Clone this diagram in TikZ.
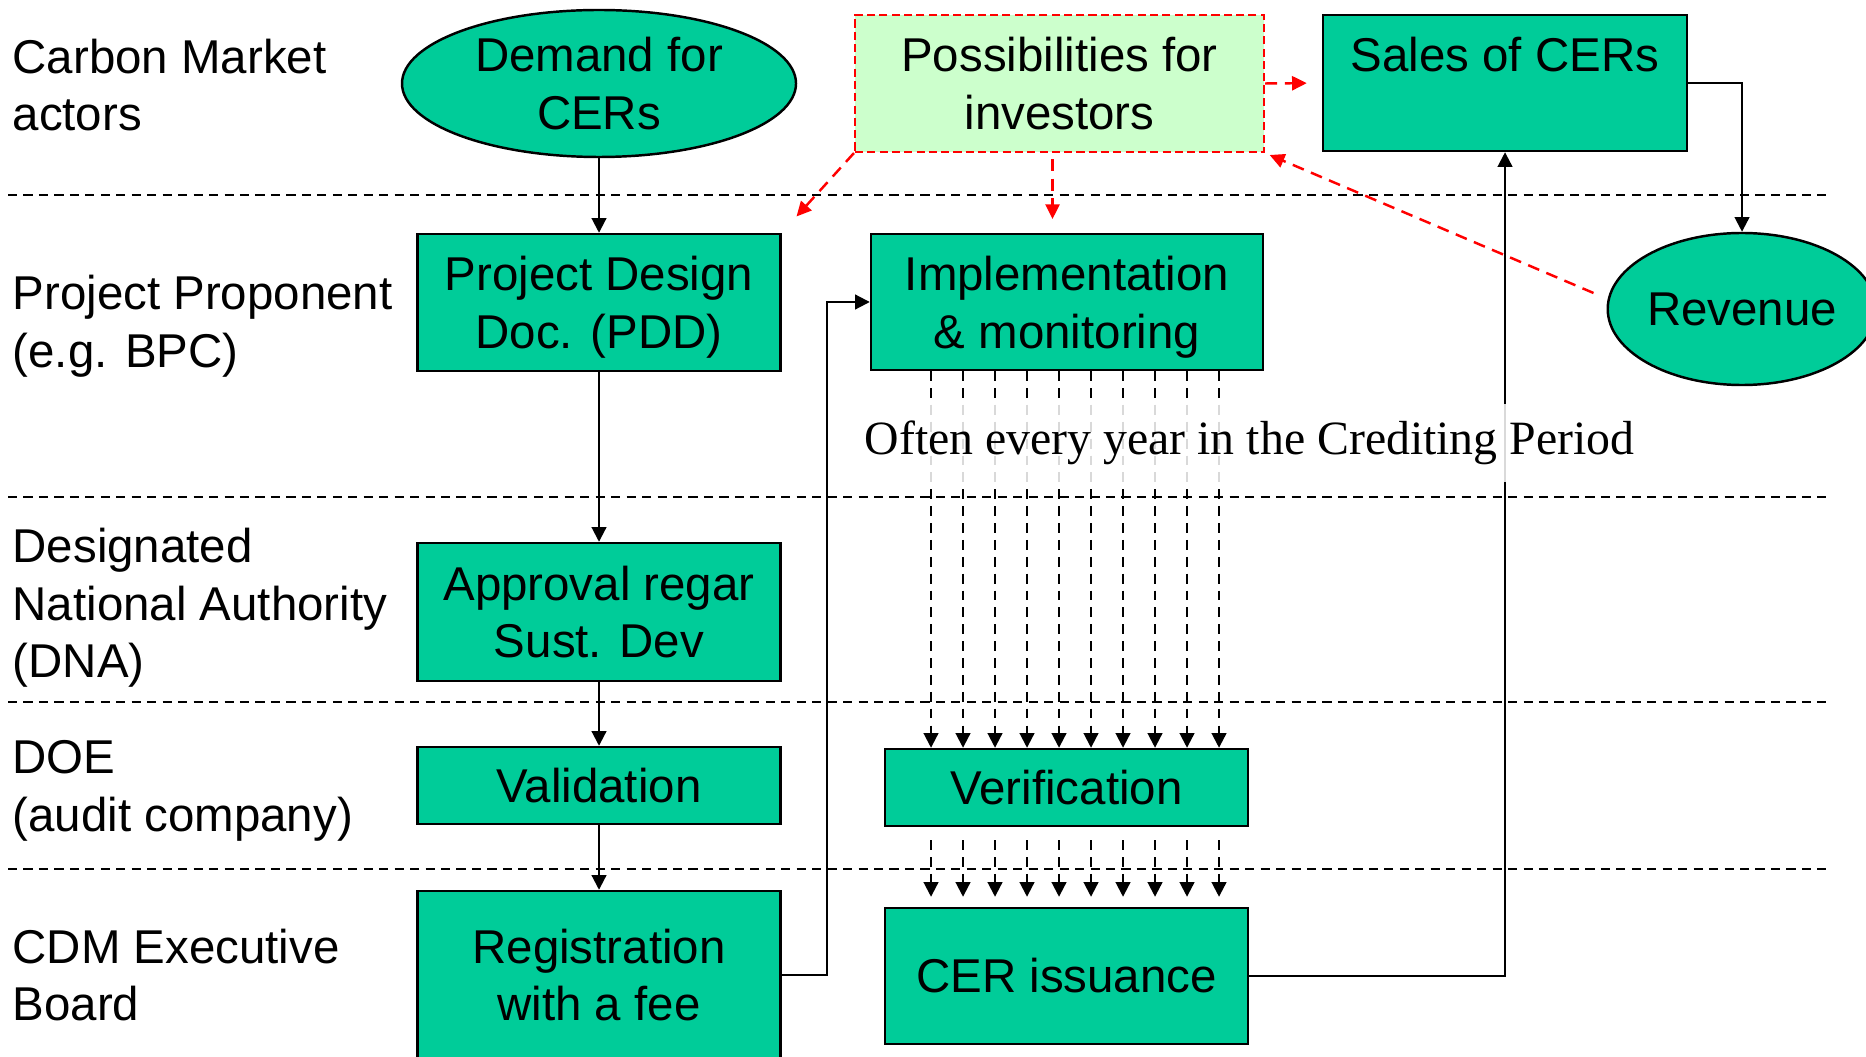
\documentclass[tikz,border=0pt]{standalone}
\usepackage{fontspec}
\setmainfont{Liberation Serif}
\setsansfont{Liberation Sans}
\usetikzlibrary{arrows.meta,shapes.geometric}
\definecolor{cergreen}{RGB}{0,204,153}
\definecolor{palegreen}{RGB}{204,255,204}
\newcommand{\lanefont}{\sffamily\fontsize{13.5}{16.4}\selectfont}

\begin{document}
\begin{tikzpicture}[
  box/.style={rectangle, draw, line width=0.7pt, fill=cergreen, inner sep=0pt, align=center, font=\lanefont},
  oval/.style={ellipse, draw, line width=0.7pt, fill=cergreen, inner sep=0pt, align=center, font=\lanefont},
  actor/.style={anchor=west, align=left, inner sep=0pt, font=\lanefont},
  lane/.style={line width=0.5pt, dash pattern=on 2.6pt off 1.8pt},
  flow/.style={line width=0.6pt, -{Triangle[length=4.2pt,width=4.2pt]}},
  yearly/.style={line width=0.6pt, dash pattern=on 2.8pt off 2pt, -{Triangle[length=4.2pt,width=4.2pt]}},
  inv/.style={red, line width=0.7pt, dash pattern=on 3.4pt off 2.2pt, -{Triangle[length=4.2pt,width=4pt]}}]
\useasboundingbox (0,0) rectangle (18.66,10.56);
\foreach \y in {8.61,5.59,3.54,1.87}
  \draw[lane] (0.08,\y) -- (18.30,\y);
\node[actor] (market) at (0.12,9.71) {Carbon Market\\actors};
\node[actor] (proponent) at (0.12,7.30) {Project Proponent\\(e.g. BPC)};
\node[actor] (dna) at (0.12,4.48) {Designated\\National Authority\\(DNA)};
\node[actor] (doe) at (0.12,2.65) {DOE\\(audit company)};
\node[actor] (board) at (0.12,0.81) {CDM Executive\\Board};
\node[oval, minimum width=3.94cm, minimum height=1.47cm] (demand) at (5.99,9.725) {Demand for\\CERs};
\node[box, fill=palegreen, draw=red, line width=0.6pt, dash pattern=on 2.3pt off 1.2pt, minimum width=4.09cm, minimum height=1.37cm] (poss) at (10.595,9.725) {Possibilities for\\investors};
\node[box, minimum width=3.64cm, minimum height=1.36cm, text height=0.34cm, text depth=0.56cm] (sales) at (15.05,9.73) {Sales of CERs};
\node[oval, minimum width=2.62cm, minimum height=1.52cm] (rev) at (17.42,7.47) {Revenue};
\node[box, minimum width=3.63cm, minimum height=1.37cm, text depth=0pt] (pdd) at (5.99,7.535) {Project Design\\Doc. (PDD)};
\node[box, minimum width=3.92cm, minimum height=1.36cm, text depth=0pt] (impl) at (10.67,7.54) {Implementation\\\& monitoring};
\node[box, minimum width=3.63cm, minimum height=1.38cm] (appr) at (5.99,4.44) {Approval regar\\Sust. Dev};
\node[box, minimum width=3.63cm, minimum height=0.77cm] (valid) at (5.99,2.705) {Validation};
\node[box, minimum width=3.63cm, minimum height=0.77cm] (verif) at (10.665,2.685) {Verification};
\node[box, minimum width=3.63cm, minimum height=1.68cm] (reg) at (5.99,0.81) {Registration\\with a fee};
\node[box, minimum width=3.63cm, minimum height=1.36cm] (cer) at (10.665,0.80) {CER issuance};
\draw[flow] (demand) -- (pdd);
\draw[flow] (pdd) -- (appr);
\draw[flow] (appr) -- (valid);
\draw[flow] (valid) -- (reg);
\draw[flow] (reg.east) -- ++(0.45,0) |- (impl.west);
\draw[flow] (cer.east) -| (sales.south);
\draw[flow] (sales.east) -| (rev.north);
% investors
\draw[inv, shorten >=0.15cm] (poss.east) -- (sales.west);
\draw[inv] (poss.south) ++(-0.07,-0.06) -- ++(0,-0.6);
\draw[inv, shorten >=0.22cm] (poss.south west) -- (pdd.north east);
\draw[inv, shorten >=0.05cm] ([shift={(-0.13,0.16)}]rev.west) -- (poss.south east);
\foreach \i in {0,...,9} {
  \coordinate (yr\i) at (9.31+0.32*\i,0);
  \draw[yearly] (impl.south -| yr\i) -- (verif.north -| yr\i);
  \draw[yearly, shorten <=0.13cm, shorten >=0.1cm] (verif.south -| yr\i) -- (cer.north -| yr\i);
}
\node[fill=white, fill opacity=0.85, text opacity=1, inner xsep=0.05cm, inner ysep=0.17cm, font=\fontsize{13.6}{16}\selectfont] (often) at (12.495,6.13) {Often every year in the Crediting Period};
\end{tikzpicture}
\end{document}
